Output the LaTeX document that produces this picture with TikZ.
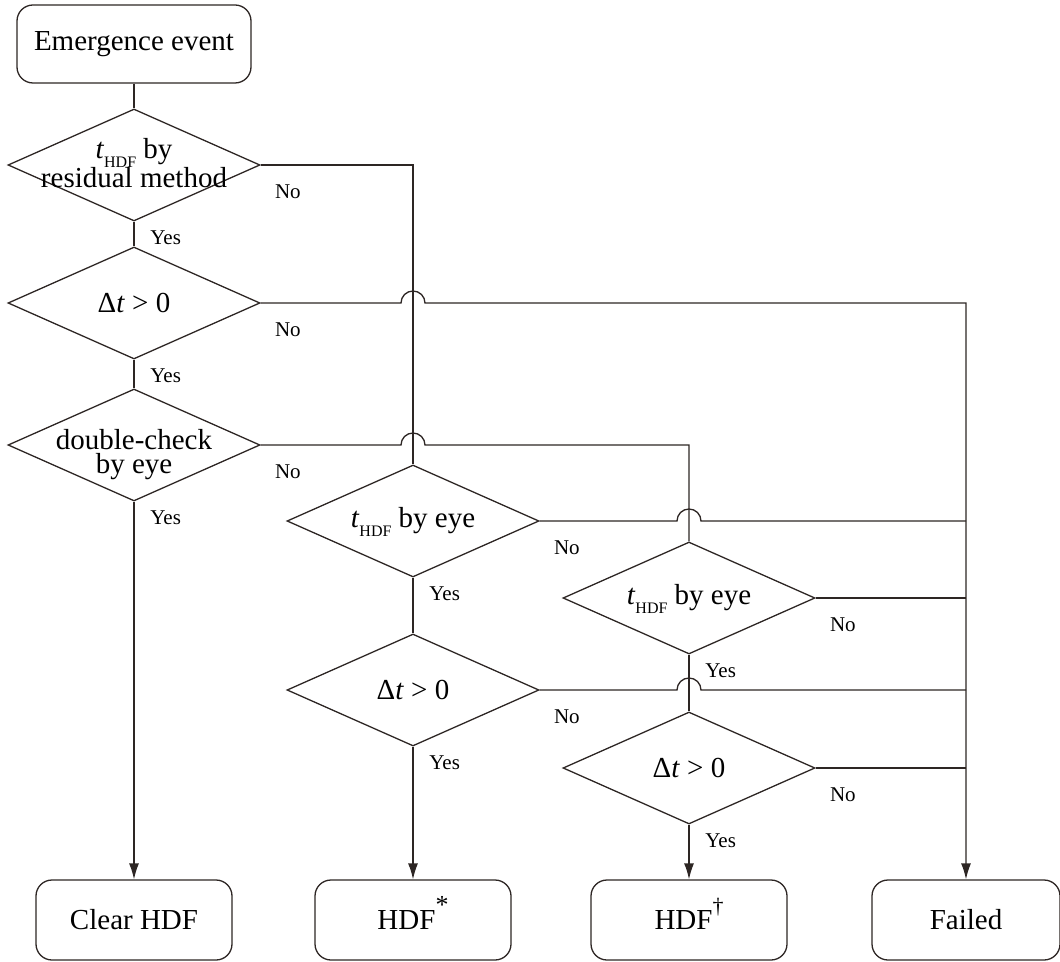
\documentclass[tikz,border=0pt]{standalone}
\usepackage{fontspec}
\setmainfont{Liberation Serif}
\usetikzlibrary{shapes.geometric,arrows.meta,positioning,calc}
\definecolor{lnclr}{RGB}{45,38,36}
\newcommand{\tHDF}{\textit{t}\raisebox{-4.5pt}[0pt][0pt]{\fontsize{8}{8}\selectfont HDF}}
\newcommand{\dtpos}{Δ\textit{t} > 0}

\begin{document}
\begin{tikzpicture}[
    font=\fontsize{14.5}{13}\selectfont,
    line/.style={draw=lnclr, line width=0.65pt},
    arr/.style={line, -{Latex[length=8pt,width=5pt]}},
    endbox/.style={draw=lnclr, line width=0.65pt, rounded corners=8pt, minimum width=98pt, minimum height=40pt},
    decision/.style={diamond, draw=lnclr, line width=0.65pt, minimum width=126pt, minimum height=56pt, inner sep=0pt},
    lbl/.style={font=\fontsize{10.5}{12}\selectfont, inner sep=0pt}
]
    \useasboundingbox (0,0) rectangle (530pt,-481pt);

    % nodes
    \node[endbox, minimum width=117pt, minimum height=39pt] (start) at (67pt,-22pt) {Emergence event};
    \node[decision, label={[align=center, font=\fontsize{14.5}{13}\selectfont, yshift=1pt]center:{\tHDF{} by\\residual method}}] (d1) at (67pt,-82.5pt) {};
    \node[decision, label={center:\dtpos}] (d2) at (67pt,-151.5pt) {};
    \node[decision, label={[align=center, font=\fontsize{14.5}{12}\selectfont, yshift=-5pt]center:{double-check\\by eye}}] (d3) at (67pt,-222.5pt) {};
    \node[decision, label={center:\tHDF{} by eye}] (d4) at (206.5pt,-260.5pt) {};
    \node[decision, label={center:\dtpos}] (d5) at (206.5pt,-345pt) {};
    \node[decision, label={center:\tHDF{} by eye}] (d6) at (344.5pt,-299pt) {};
    \node[decision, label={center:\dtpos}] (d7) at (344.5pt,-384pt) {};
    \node[endbox] (clear) at (67pt,-460pt) {Clear HDF};
    \node[endbox] (hdfa) at (206.5pt,-460pt) {HDF\raisebox{8pt}[0pt][0pt]{\fontsize{13}{13}\selectfont *}};
    \node[endbox] (hdfb) at (344.5pt,-460pt) {HDF\raisebox{8pt}[0pt][0pt]{\fontsize{11}{11}\selectfont \textdagger}};
    \node[endbox, minimum width=94pt] (fail) at (483pt,-460pt) {Failed};

    % yes branches
    \draw[line] (start) -- (d1);
    \draw[line] (d1) -- (d2);
    \draw[line] (d2) -- (d3);
    \draw[arr] (d3) -- (clear);
    \draw[line] (d4) -- (d5);
    \draw[arr] (d5) -- (hdfa);
    \draw[line] (d6) -- (d7);
    \draw[arr] (d7) -- (hdfb);

    % no branches
    \draw[line] (d1.east) -- (d1.east -| d4.north) -- (d4.north);
    \draw[arr] (d2.east) -- ($(d2.east -| d4.north)+(-6pt,0)$) arc[start angle=180, end angle=0, radius=6pt]
        -- (d2.east -| fail.north) -- (fail.north);
    \draw[line] (d3.east) -- ($(d3.east -| d4.north)+(-6pt,0)$) arc[start angle=180, end angle=0, radius=6pt]
        -- (d3.east -| d6.north) -- (d6.north);
    \draw[line] (d4.east) -- ($(d4.east -| d6.north)+(-6pt,0)$) arc[start angle=180, end angle=0, radius=6pt]
        -- (d4.east -| fail.north);
    \draw[line] (d5.east) -- ($(d5.east -| d6.north)+(-6pt,0)$) arc[start angle=180, end angle=0, radius=6pt]
        -- (d5.east -| fail.north);
    \draw[line] (d6.east) -- (d6.east -| fail.north);
    \draw[line] (d7.east) -- (d7.east -| fail.north);

    % labels
    \foreach \d in {d1,d2,d3,d4,d5,d6,d7}{
        \node[lbl, below right=9.5pt and 7pt of \d.east] (no-\d) {No};
        \node[lbl, below right=4.5pt and 8pt of \d.south] (yes-\d) {Yes};
    }
\end{tikzpicture}
\end{document}
